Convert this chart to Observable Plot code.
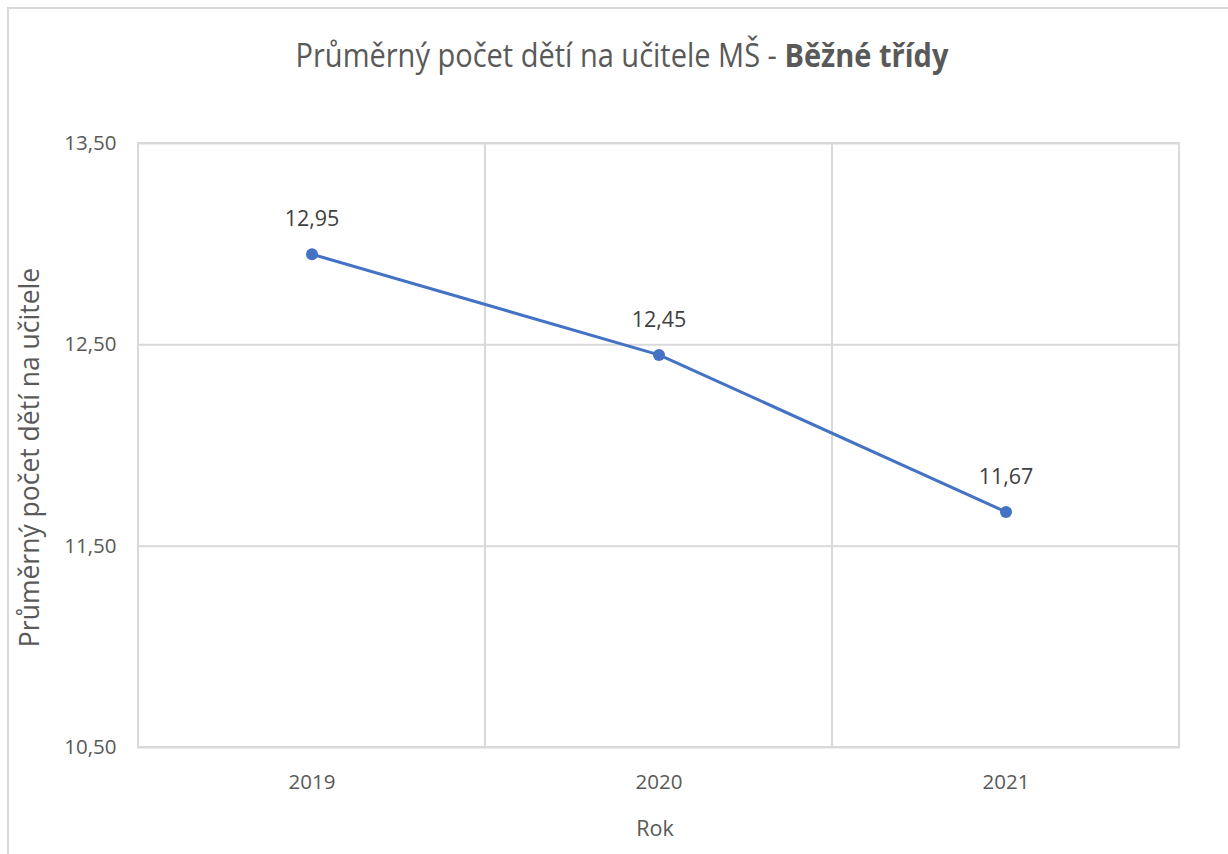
<!DOCTYPE html>
<html><head><meta charset="utf-8">
<script src="https://cdn.jsdelivr.net/npm/d3@7"></script>
<script src="https://cdn.jsdelivr.net/npm/@observablehq/plot@0.6"></script>
<style>
html,body{margin:0;padding:0;background:#fff;overflow:hidden;width:1228px;height:854px;}
#frame{position:absolute;left:7px;top:7px;width:1260px;height:900px;border:2px solid #d9d9d9;}
#title{position:absolute;left:0;width:1244px;top:36px;text-align:center;font-family:"Open Sans";font-size:29px;color:#595959;white-space:nowrap;transform:scaleY(1.12);transform-origin:center 31px;}
#title b{font-weight:700;}
#chart{position:absolute;left:0;top:0;}
</style></head><body>
<div id="frame"></div>
<div id="title">Průměrný počet dětí na učitele MŠ - <b>Běžné třídy</b></div>
<div id="chart"></div>
<script>
const years = ["2019", "2020", "2021"];
const values = [12.95, 12.45, 11.67];
const yTicks = [10.5, 11.5, 12.5, 13.5];
const yLabel = "Průměrný počet dětí na učitele";
const xLabel = "Rok";

const data = years.map((y, i) => ({year: y, value: values[i]}));
const fmt = v => d3.format(".2f")(v).replace(".", ",");

const plot = Plot.plot({
  width: 1228, height: 854,
  marginLeft: 137, marginRight: 48, marginTop: 143, marginBottom: 107,
  style: {fontFamily: "Open Sans", fontSize: "20px", color: "#595959", background: "transparent"},
  x: {type: "band", domain: years, padding: 0},
  y: {domain: [10.5, 13.5]},
  marks: [
    Plot.gridY(yTicks, {stroke: "#d9d9d9", strokeOpacity: 1, strokeWidth: 2}),
    Plot.barY(years, {x: d => d, y1: () => 10.5, y2: () => 13.5, fill: "none", stroke: "#d9d9d9", strokeWidth: 2}),
    Plot.axisY(yTicks, {tickSize: 0, tickPadding: 21, tickFormat: fmt, label: null, fontSize: 20.5, fill: "#595959"}),
    Plot.axisX({tickSize: 0, tickPadding: 27, label: null, fontSize: 20.5, fill: "#595959"}),
    Plot.text([yLabel], {frameAnchor: "left", textAnchor: "middle", rotate: -90, dx: -107, dy: 12, fontSize: 26.5, fill: "#595959"}),
    Plot.text([xLabel], {frameAnchor: "bottom", lineAnchor: "top", dy: 73, dx: -4, fontSize: 21.5, fill: "#595959"}),
    Plot.line(data, {x: "year", y: "value", stroke: "#4472c4", strokeWidth: 3}),
    Plot.dot(data, {x: "year", y: "value", r: 6, fill: "#4472c4"}),
    Plot.text(data, {x: "year", y: "value", text: d => fmt(d.value), dy: -35, fill: "#404040", fontSize: 21.5})
  ]
});
document.getElementById("chart").appendChild(plot);
</script>
</body></html>
